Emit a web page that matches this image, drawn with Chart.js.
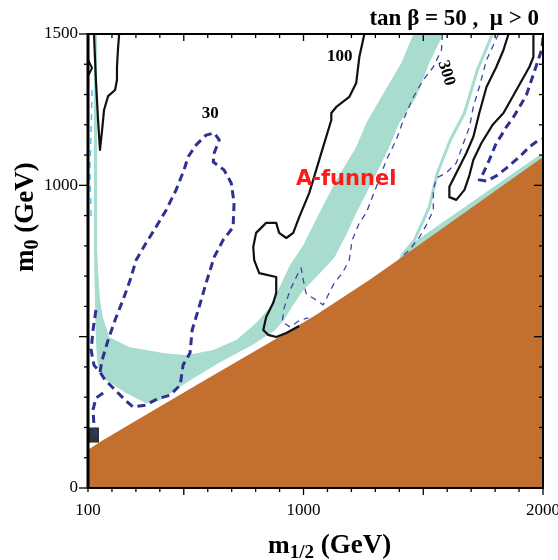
<!DOCTYPE html>
<html lang="en">
<head>
  <meta charset="UTF-8" />
  <title>tan beta = 50, mu > 0</title>
  <script src="https://cdn.jsdelivr.net/npm/chart.js"></script>
  <style>
    html, body { margin: 0; padding: 0; background: #fff; }
    #plane { display: block; }
  </style>
</head>
<body>
  <canvas id="plane" width="558" height="560"></canvas>

  <script>
    // axes (GeV)
    const xRange = [100, 2000];
    const yRange = [0, 1500];
    const xTickLabels = [100, 1000, 2000];
    const yTickLabels = [0, 1000, 1500];
    const minorStep = 100;
    const majorStep = 500;

    // filled regions, points are [m1/2, m0]
    const stauLSP = [[100,0],[100,126],[150,152],[305,225],[568,347],[898,499],[1053,572],
      [1275,687],[1400,757],[2000,1094],[2000,0]];

    const wmapBand = [[1459,1500],[1408,1404],[1325,1292],[1262,1206],[1220,1127],[1137,1018],
      [1066,909],[999,803],[944,737],[894,654],[861,598],[802,545],[719,489],[623,456],[510,439],
      [414,446],[271,466],[188,499],[163,562],[150,621],[142,720],[138,786],[125,786],[129,621],
      [133,489],[138,423],[146,390],[175,357],[259,314],[342,280],[401,290],[510,348],[648,414],
      [790,474],[880,520],[919,556],[953,600],[995,650],[1061,704],[1128,760],[1178,836],
      [1220,909],[1291,1018],[1358,1127],[1400,1206],[1471,1292],[1525,1404],[1584,1500]];

    const wmapStrip = [[1396,748],[1405,770],[1440,800],[1981,1098],[2000,1104],[2000,1080]];
    const wmapLeftLine = [[131,1500],[131,1100],[132,790]];
    const wmapRightLine = [[1789,1500],[1726,1381],[1672,1239],[1613,1150],[1559,1041],
      [1525,928],[1463,819],[1413,770]];

    // solid contours
    const c100Left = [[125,1500],[133,1348],[142,1216],[150,1117],[159,1183],[167,1249],
      [184,1295],[213,1315],[221,1348],[221,1391],[225,1447],[230,1500]];
    const c100Wiggle = [[100,1414],[117,1388],[100,1361]];
    const c100Main = [[1254,1500],[1233,1424],[1220,1338],[1191,1292],[1137,1259],[1116,1239],
      [1116,1216],[1082,1127],[1053,1051],[1024,975],[982,895],[957,843],[928,826],[898,843],
      [886,876],[844,876],[802,843],[790,796],[794,753],[815,710],[886,697],[886,644],[873,611],
      [844,565],[832,522],[852,506],[886,499],[928,512],[982,535]];
    const c100Right = [[1856,1500],[1835,1447],[1805,1391],[1764,1325],[1734,1239],[1709,1160],
      [1680,1107],[1638,1041],[1609,995],[1609,961],[1638,952],[1672,985],[1693,1034],
      [1709,1084],[1743,1140],[1789,1199],[1835,1239],[1889,1315],[1943,1391],[1960,1424],
      [1960,1500]];

    // dashed contours
    const c30 = [[150,383],[159,423],[184,489],[213,555],[246,621],[276,687],[301,753],[342,809],
      [384,862],[426,918],[468,985],[501,1051],[518,1094],[551,1133],[593,1166],[627,1173],
      [648,1150],[627,1107],[623,1077],[668,1051],[698,1008],[710,942],[706,862],[664,819],
      [627,763],[593,677],[564,598],[535,522],[526,446],[497,406],[485,340],[443,307],[388,294],
      [342,274],[288,268],[255,291],[213,324],[171,357],[150,383]];
    const c30EdgeA = [[133,588],[121,522],[113,456],[125,406],[150,383]];
    const c30EdgeB = [[163,314],[133,297],[121,258],[125,208],[133,175]];
    const c300 = [[1580,1500],[1576,1447],[1542,1391],[1500,1348],[1459,1292],[1417,1216],
      [1387,1150],[1346,1084],[1304,995],[1262,909],[1233,876],[1203,819],[1191,753],[1162,710],
      [1128,677],[1107,644],[1082,605],[1053,621],[1011,641],[999,687],[990,727],[974,704],
      [944,654],[919,595],[911,548],[944,532],[986,555],[1020,562]];
    const cThinRight = [[1814,1500],[1764,1414],[1734,1325],[1709,1259],[1693,1193],[1668,1140],
      [1638,1074],[1596,1041],[1555,1024],[1542,985],[1542,918],[1513,869],[1484,829],
      [1442,786],[1413,766]];
    const cThickRight = [[2000,1487],[1994,1447],[1977,1407],[1952,1348],[1931,1299],[1902,1259],
      [1877,1226],[1847,1193],[1822,1160],[1805,1140],[1776,1084],[1751,1041],[1734,1018],
      [1764,1014],[1805,1031],[1847,1057],[1902,1094],[1943,1127],[1977,1147],[2000,1153]];
    const cLeftLight = [[117,1315],[113,1183],[108,1051],[113,895]];
    const markerBox = [[104,150],[146,150],[146,200],[104,200]];

    // text placed at data positions
    const contourLabels = [
      { text: '30', at: [610, 1236], angle: 0 },
      { text: '100', at: [1151, 1426], angle: 0 },
      { text: '300', at: [1596, 1371], angle: 73 }
    ];
    const funnelLabel = { text: 'A-funnel', at: [1178, 1018] };
    const title = 'tan \u03b2 = 50 ,  \u03bc > 0';

    const BROWN = '#c26f2f';
    const TEAL = '#a7dccf';
    const NAVY = '#2e3192';
    const BLUE = '#3e48a8';
    const SERIF = '"Liberation Serif", "DejaVu Serif", serif';

    const toXY = arr => arr.map(([x, y]) => ({ x, y }));

    function area(data, color, order) {
      return {
        data: toXY(data), showLine: true, fill: 'shape', backgroundColor: color,
        borderColor: color, borderWidth: 0, pointRadius: 0, order
      };
    }

    function curve(data, color, width, dash, order) {
      return {
        data: toXY(data), showLine: true, fill: false, borderColor: color,
        borderWidth: width, borderDash: dash || [], pointRadius: 0, tension: 0,
        borderJoinStyle: 'round', order: order || 1
      };
    }

    // tick marks + frame
    const framePlugin = {
      id: 'frame',
      afterDatasetsDraw(chart) {
        const { ctx, chartArea: a, scales: { x, y } } = chart;
        const seg = (x1, y1, x2, y2) => { ctx.beginPath(); ctx.moveTo(x1, y1); ctx.lineTo(x2, y2); ctx.stroke(); };
        ctx.save();
        ctx.strokeStyle = '#000';
        ctx.lineWidth = 1.3;
        for (let v = xRange[0]; v <= xRange[1]; v += minorStep) {
          const px = x.getPixelForValue(v);
          const len = v % majorStep === 0 ? 7 : 4;
          seg(px, a.bottom, px, a.bottom + len);
          seg(px, a.top, px, a.top + len);
        }
        for (let v = yRange[0]; v <= yRange[1]; v += minorStep) {
          const py = y.getPixelForValue(v);
          const len = v % majorStep === 0 ? 9 : 4;
          seg(a.left - len, py, a.left, py);
          seg(a.right - len, py, a.right, py);
        }
        ctx.lineWidth = 2;
        ctx.strokeRect(a.left, a.top, a.right - a.left, a.bottom - a.top);
        ctx.lineWidth = 3;
        seg(a.left, a.top - 1, a.left, a.bottom + 1);
        ctx.restore();
      }
    };

    // labels, title and axis titles
    const textPlugin = {
      id: 'texts',
      afterDraw(chart) {
        const { ctx, chartArea: a, scales: { x, y } } = chart;
        ctx.save();
        ctx.fillStyle = '#000';
        ctx.textBaseline = 'middle';
        ctx.textAlign = 'center';
        ctx.font = 'bold 17px ' + SERIF;
        contourLabels.forEach(l => {
          ctx.save();
          ctx.translate(x.getPixelForValue(l.at[0]), y.getPixelForValue(l.at[1]));
          ctx.rotate(l.angle * Math.PI / 180);
          ctx.fillText(l.text, 0, 0);
          ctx.restore();
        });

        ctx.fillStyle = '#ff1a1a';
        ctx.font = 'bold 21px "Comic Sans MS", "DejaVu Sans", sans-serif';
        ctx.fillText(funnelLabel.text, x.getPixelForValue(funnelLabel.at[0]), y.getPixelForValue(funnelLabel.at[1]));

        ctx.fillStyle = '#000';
        ctx.textBaseline = 'alphabetic';
        ctx.textAlign = 'right';
        ctx.font = 'bold 23px ' + SERIF;
        ctx.fillText(title, a.right - 4, 25);

        // m_1/2 (GeV)
        ctx.textAlign = 'left';
        let cx = 268;
        ctx.font = 'bold 26px ' + SERIF;
        ctx.fillText('m', cx, 553);
        cx += ctx.measureText('m').width;
        ctx.font = 'bold 19px ' + SERIF;
        ctx.fillText('1/2', cx, 558);
        cx += ctx.measureText('1/2').width;
        ctx.font = 'bold 27px ' + SERIF;
        ctx.fillText(' (GeV)', cx, 553);

        // m_0 (GeV)
        ctx.translate(33, 272);
        ctx.rotate(-Math.PI / 2);
        let cy = 0;
        ctx.font = 'bold 27px ' + SERIF;
        ctx.fillText('m', cy, 0);
        cy += ctx.measureText('m').width;
        ctx.font = 'bold 20px ' + SERIF;
        ctx.fillText('0', cy, 5);
        cy += ctx.measureText('0').width;
        ctx.font = 'bold 27px ' + SERIF;
        ctx.fillText(' (GeV)', cy, 0);
        ctx.restore();
      }
    };

    new Chart(document.getElementById('plane'), {
      type: 'scatter',
      data: {
        datasets: [
          curve(c100Left, '#111', 2.2),
          curve(c100Wiggle, '#111', 2),
          curve(c100Main, '#111', 2.2),
          curve(c100Right, '#111', 2.2),
          curve(c30, NAVY, 3, [8, 5]),
          curve(c30EdgeA, NAVY, 3, [8, 5]),
          curve(c30EdgeB, NAVY, 3, [8, 5]),
          curve(cThickRight, NAVY, 3, [8, 5]),
          curve(c300, BLUE, 1.3, [6, 5]),
          curve(cThinRight, BLUE, 1.3, [6, 5]),
          curve(cLeftLight, '#5bc0eb', 1.5, [6, 6]),
          area(markerBox, '#333', 5),
          area(stauLSP, BROWN, 18),
          curve(wmapLeftLine, TEAL, 3, [], 19),
          curve(wmapRightLine, TEAL, 3, [], 19),
          area(wmapStrip, TEAL, 20),
          area(wmapBand, TEAL, 20)
        ]
      },
      options: {
        responsive: false,
        devicePixelRatio: 1,
        animation: false,
        events: [],
        layout: { padding: { top: 34, right: 15, left: 0, bottom: 0 } },
        plugins: { legend: { display: false }, tooltip: { enabled: false } },
        scales: {
          x: {
            type: 'linear', min: xRange[0], max: xRange[1],
            grid: { display: false, drawTicks: false },
            border: { display: false },
            ticks: { color: '#000', padding: 12, font: { family: SERIF, size: 17 }, callback: v => String(v) },
            afterBuildTicks: s => { s.ticks = xTickLabels.map(v => ({ value: v })); },
            afterFit: s => { s.height = 72; s.paddingLeft = 0; s.paddingRight = 0; }
          },
          y: {
            type: 'linear', min: yRange[0], max: yRange[1],
            grid: { display: false, drawTicks: false },
            border: { display: false },
            ticks: { color: '#000', padding: 10, font: { family: SERIF, size: 17 }, callback: v => String(v) },
            afterBuildTicks: s => { s.ticks = yTickLabels.map(v => ({ value: v })); },
            afterFit: s => { s.width = 88; s.paddingTop = 0; s.paddingBottom = 0; }
          }
        }
      },
      plugins: [framePlugin, textPlugin]
    });
  </script>
</body>
</html>
